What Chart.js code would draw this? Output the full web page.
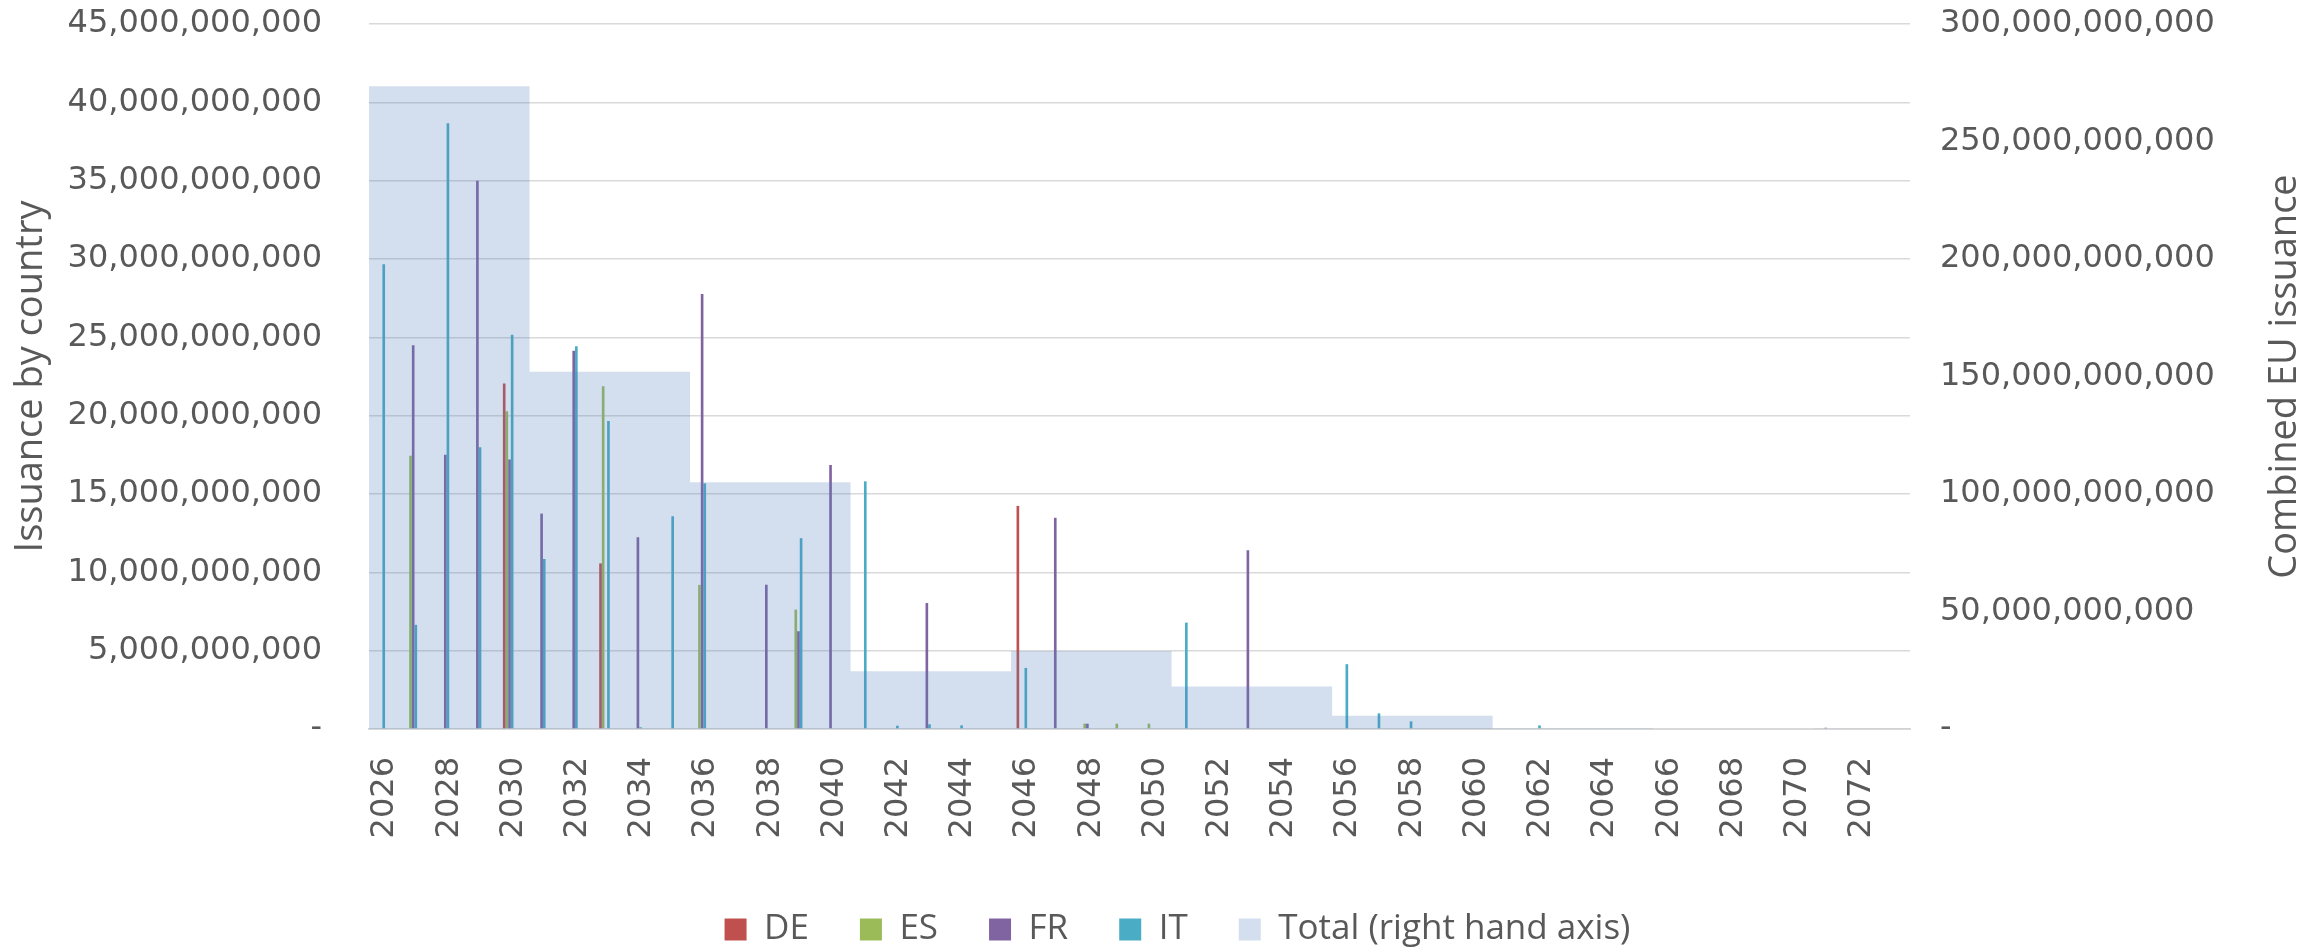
<!DOCTYPE html>
<html>
<head>
<meta charset="utf-8">
<script src="https://cdn.jsdelivr.net/npm/chart.js@4.4.1/dist/chart.umd.min.js"></script>
<style>
  html, body { margin: 0; padding: 0; background: #ffffff; }
  #wrap { width: 2321px; height: 950px; position: relative; }
</style>
</head>
<body>
<div id="wrap"><canvas id="chart"></canvas></div>
<script>
// ---- Data (EUR billions) ----
const categories = [
  '2026','2027','2028','2029','2030','2031','2032','2033','2034','2035',
  '2036','2037','2038','2039','2040','2041','2042','2043','2044','2045',
  '2046','2047','2048','2049','2050','2051','2052','2053','2054','2055',
  '2056','2057','2058','2059','2060','2061','2062','2063','2064','2065',
  '2066','2067','2068','2069','2070','2071','2072','2073'
];

const deValues = [
  0, 0, 0, 0, 22.05, 0, 0, 10.57, 0, 0,
  0, 0, 0, 0, 0, 0, 0, 0, 0, 0,
  14.24, 0, 0, 0, 0, 0, 0, 0, 0, 0,
  0, 0, 0, 0, 0, 0, 0, 0, 0, 0,
  0, 0, 0, 0, 0, 0, 0, 0
];
const esValues = [
  0, 17.44, 0.05, 0, 20.28, 0, 0, 21.88, 0, 0,
  9.2, 0, 0, 7.62, 0, 0, 0, 0, 0, 0,
  0, 0, 0.34, 0.34, 0.34, 0, 0, 0, 0, 0,
  0, 0, 0, 0, 0, 0, 0, 0, 0, 0,
  0, 0, 0, 0, 0, 0, 0, 0
];
const frValues = [
  0, 24.49, 17.5, 35.0, 17.2, 13.75, 24.15, 0, 12.24, 0.05,
  27.76, 0, 9.21, 6.24, 16.85, 0, 0, 8.04, 0, 0,
  0, 13.48, 0.34, 0, 0, 0, 0, 11.41, 0, 0,
  0, 0, 0, 0, 0, 0, 0, 0, 0, 0,
  0, 0, 0, 0, 0, 0.08, 0, 0
];
const itValues = [
  29.66, 6.65, 38.67, 17.98, 25.17, 10.85, 24.43, 19.66, 0.11, 13.58,
  15.68, 0, 0, 12.18, 0, 15.81, 0.21, 0.30, 0.23, 0,
  3.9, 0, 0, 0, 0, 6.79, 0, 0, 0, 0,
  4.14, 1.0, 0.49, 0, 0, 0, 0.23, 0, 0, 0,
  0, 0, 0, 0, 0, 0, 0, 0
];

// Five-year maturity buckets for the combined total (first and last year of each bucket)
const bucketFirstYear = [2026, 2031, 2036, 2041, 2046, 2051, 2056, 2061, 2066, 2071];
const bucketLastYear  = [2030, 2035, 2040, 2045, 2050, 2055, 2060, 2065, 2070, 2075];
const bucketTotals    = [273.5, 152.0, 105.0, 24.6, 33.2, 18.1, 5.6, 0.23, 0, 0.08];

const seriesNames = ['DE', 'ES', 'FR', 'IT', 'Total (right hand axis)'];
const leftTicks  = { min: 0, max: 45e9, step: 5e9 };
const rightTicks = { min: 0, max: 300e9, step: 50e9 };
const leftAxisTitle = 'Issuance by country';
const rightAxisTitle = 'Combined EU issuance';

// ---- Build library structures ----
const BN = 1e9;
const toUnits = arr => arr.map(v => v * BN);

// stepped outline of the bucket totals on a continuous year scale
const totalPoints = [];
bucketFirstYear.forEach((y, i) => {
  totalPoints.push({ x: y - 0.5, y: bucketTotals[i] * BN });
});
totalPoints.push({ x: bucketLastYear[bucketLastYear.length - 1] + 0.5, y: 0 });

const firstYear = Number(categories[0]);
const lastYear = Number(categories[categories.length - 1]);

const TEXT = '#595959';
const GRID = '#d9d9d9';
const tickFont = { family: "'DejaVu Sans', sans-serif", size: 32 };
const labelFont = { family: "'Open Sans', sans-serif", size: 35 };
const titleFont = { family: "'Open Sans', sans-serif", size: 38 };

const fmt = v => (v === 0 ? '-' : Number(v).toLocaleString('en-US'));

const rightTitlePlugin = {
  id: 'rightTitle',
  afterDraw(chart) {
    const { ctx, chartArea } = chart;
    const s = chart.scales.y2;
    ctx.save();
    ctx.translate(s.right - 36, (chartArea.top + chartArea.bottom) / 2);
    ctx.rotate(-Math.PI / 2);
    ctx.font = "38px 'Open Sans', sans-serif";
    ctx.fillStyle = TEXT;
    ctx.textAlign = 'center';
    ctx.textBaseline = 'middle';
    ctx.fillText(rightAxisTitle, 0, 0);
    ctx.restore();
  }
};

const barCommon = { borderWidth: 0, categoryPercentage: 0.66, barPercentage: 1.0, xAxisID: 'x', yAxisID: 'y' };

new Chart(document.getElementById('chart'), {
  type: 'bar',
  data: {
    labels: categories,
    datasets: [
      Object.assign({ label: seriesNames[0], data: toUnits(deValues), backgroundColor: '#C0504D' }, barCommon),
      Object.assign({ label: seriesNames[1], data: toUnits(esValues), backgroundColor: '#9BBB59' }, barCommon),
      Object.assign({ label: seriesNames[2], data: toUnits(frValues), backgroundColor: '#8064A2' }, barCommon),
      Object.assign({ label: seriesNames[3], data: toUnits(itValues), backgroundColor: '#4BACC6' }, barCommon),
      {
        type: 'line',
        label: seriesNames[4],
        data: totalPoints,
        xAxisID: 'x2',
        yAxisID: 'y2',
        stepped: true,
        fill: 'origin',
        backgroundColor: 'rgba(79,129,189,0.25)',
        borderColor: 'rgba(79,129,189,0.25)',
        borderWidth: 0,
        pointRadius: 0,
        pointHoverRadius: 0,
        order: -1
      }
    ]
  },
  options: {
    responsive: true,
    maintainAspectRatio: false,
    devicePixelRatio: 1,
    animation: false,
    layout: { padding: { top: 24, left: 34, right: 0, bottom: -7 } },
    scales: {
      x: {
        type: 'category',
        position: 'bottom',
        offset: true,
        grid: { display: false, drawTicks: false },
        border: { display: true, color: GRID, width: 2 },
        ticks: {
          autoSkip: false,
          minRotation: 90,
          maxRotation: 90,
          padding: 28,
          color: TEXT,
          font: tickFont,
          callback: function (val, idx) { return idx % 2 === 0 ? this.getLabelForValue(val) : ''; }
        },
        afterFit: s => { s.height = 132; }
      },
      x2: {
        type: 'linear',
        display: false,
        min: firstYear - 0.5,
        max: lastYear + 0.5,
        offset: false,
        grid: { display: false }
      },
      y: {
        position: 'left',
        min: leftTicks.min,
        max: leftTicks.max,
        grid: { color: GRID, lineWidth: 1.5, drawTicks: true, tickLength: 44, tickColor: 'rgba(0,0,0,0)' },
        border: { display: false },
        ticks: { stepSize: leftTicks.step, padding: 3, color: TEXT, font: tickFont, callback: v => fmt(v) },
        title: { display: true, text: leftAxisTitle, color: TEXT, font: titleFont, padding: { top: -26, bottom: 0 } },
        afterFit: s => { s.width = 335; }
      },
      y2: {
        position: 'right',
        min: rightTicks.min,
        max: rightTicks.max,
        grid: { display: true, drawOnChartArea: false, drawTicks: true, tickLength: 27, color: 'rgba(0,0,0,0)', tickColor: 'rgba(0,0,0,0)' },
        border: { display: false },
        ticks: { stepSize: rightTicks.step, padding: 3, color: TEXT, font: tickFont, callback: v => fmt(v) },
        afterFit: s => { s.width = 411; }
      }
    },
    plugins: {
      tooltip: { enabled: false },
      legend: {
        position: 'bottom',
        labels: {
          boxWidth: 22,
          boxHeight: 22,
          padding: 51,
          color: TEXT,
          font: labelFont,
          sort: (a, b) => a.datasetIndex - b.datasetIndex
        }
      }
    }
  },
  plugins: [rightTitlePlugin]
});
</script>
</body>
</html>
